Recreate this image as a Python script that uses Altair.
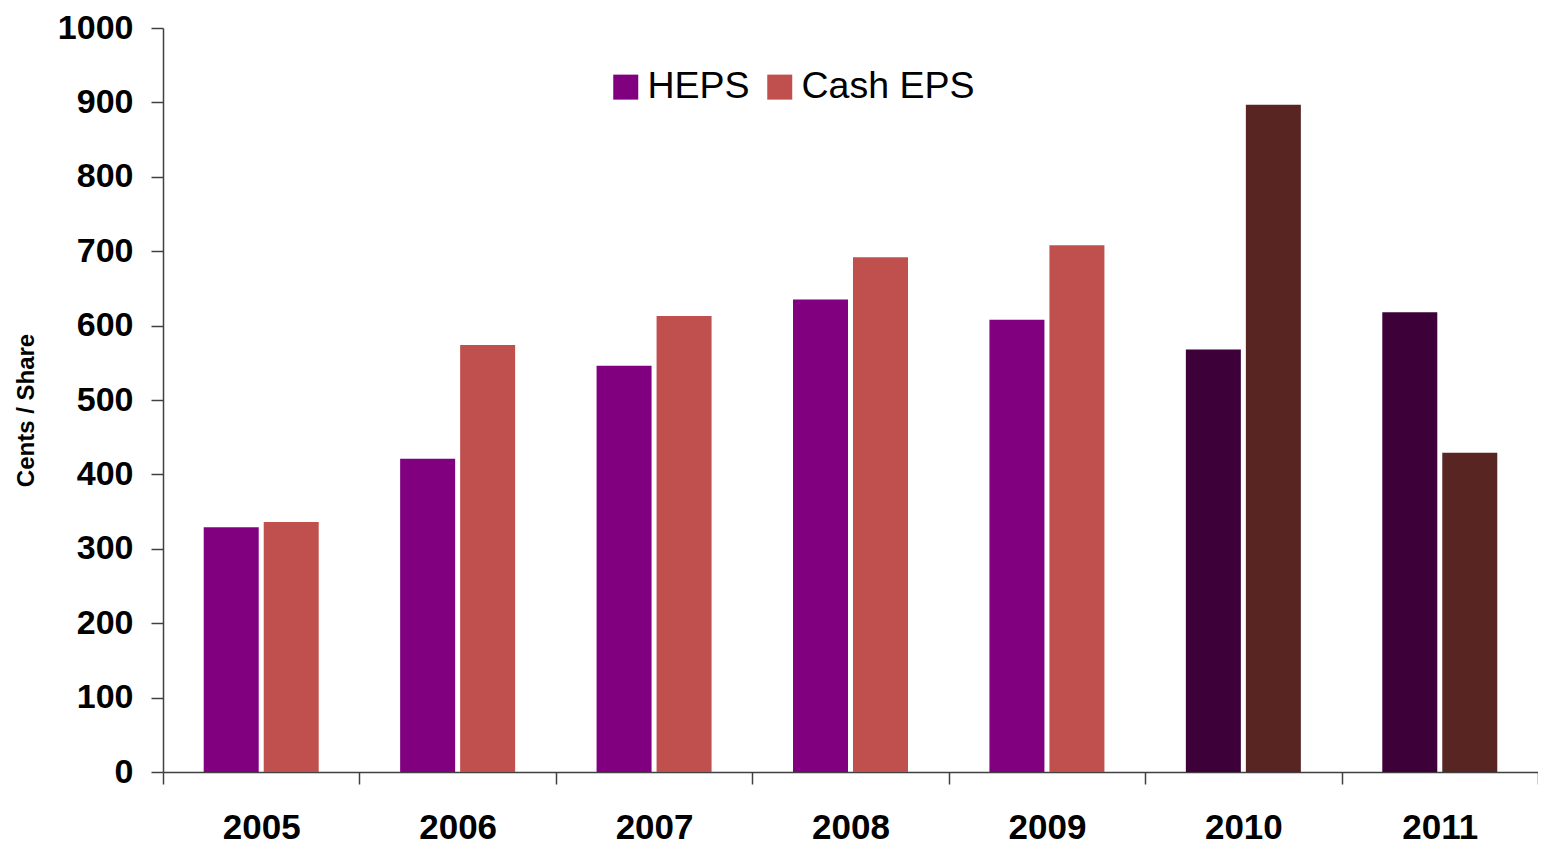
import altair as alt
import pandas as pd

years = ["2005", "2006", "2007", "2008", "2009", "2010", "2011"]
heps = [329, 421, 546, 635, 608, 568, 618]
cash_eps = [336, 574, 613, 692, 708, 897, 429]
series_names = ["HEPS", "Cash EPS"]
dark_years = ["2010", "2011"]
y_ticks = [0, 100, 200, 300, 400, 500, 600, 700, 800, 900, 1000]

rows = []
for i, yr in enumerate(years):
    for s, vals in zip(series_names, [heps, cash_eps]):
        key = s + (" (dark)" if yr in dark_years else "")
        rows.append({"year": yr, "series": s, "key": key, "value": vals[i]})
df = pd.DataFrame(rows)

color_domain = ["HEPS", "Cash EPS", "HEPS (dark)", "Cash EPS (dark)"]
color_range = ["#800080", "#C0504D", "#3D0039", "#582523"]

font = "Liberation Sans"
axis_col = "#404040"

chart = alt.Chart(df).mark_bar().encode(
    x=alt.X(
        "year:N", sort=years,
        scale=alt.Scale(paddingInner=0, paddingOuter=0),
        axis=alt.Axis(title=None, labelAngle=0, tickBand="extent", tickSize=12,
                      labelPadding=26, labelFontSize=35, labelFontWeight="bold",
                      labelFont=font, labelColor="black", domainColor=axis_col,
                      domainWidth=1.5, tickColor=axis_col, tickWidth=1.5, grid=False),
    ),
    xOffset=alt.XOffset("series:N", sort=series_names,
                        scale=alt.Scale(paddingInner=0.0833, paddingOuter=0.6786)),
    y=alt.Y(
        "value:Q",
        scale=alt.Scale(domain=[0, 1000], nice=False),
        axis=alt.Axis(values=y_ticks, format="d", title="Cents / Share", grid=False,
                      tickSize=12, labelPadding=18, labelFontSize=34,
                      labelFontWeight="bold", labelFont=font, labelColor="black",
                      domainColor=axis_col, domainWidth=1.5, tickColor=axis_col,
                      tickWidth=1.5, titleFont=font, titleFontSize=24,
                      titleFontWeight="bold", titleColor="black", titleX=-130,
                      titleY=382, titleBaseline="alphabetic", titleAngle=-90),
    ),
    color=alt.Color(
        "key:N",
        scale=alt.Scale(domain=color_domain, range=color_range),
        legend=alt.Legend(values=series_names, title=None, orient="none",
                          legendX=444, legendY=40, direction="horizontal",
                          symbolType="square", symbolSize=625, symbolStrokeWidth=0,
                          symbolOpacity=1, labelFont=font, labelFontSize=37.5,
                          labelColor="black", labelOffset=3, columnPadding=11,
                          labelLimit=0, padding=0),
    ),
).properties(
    width=1375, height=744,
    autosize=alt.AutoSizeParams(type="none"),
    padding={"left": 155, "top": 20, "right": 0, "bottom": 76},
).configure_view(stroke=None)

chart.save("out.html", embed_options={"renderer": "svg", "actions": False})
